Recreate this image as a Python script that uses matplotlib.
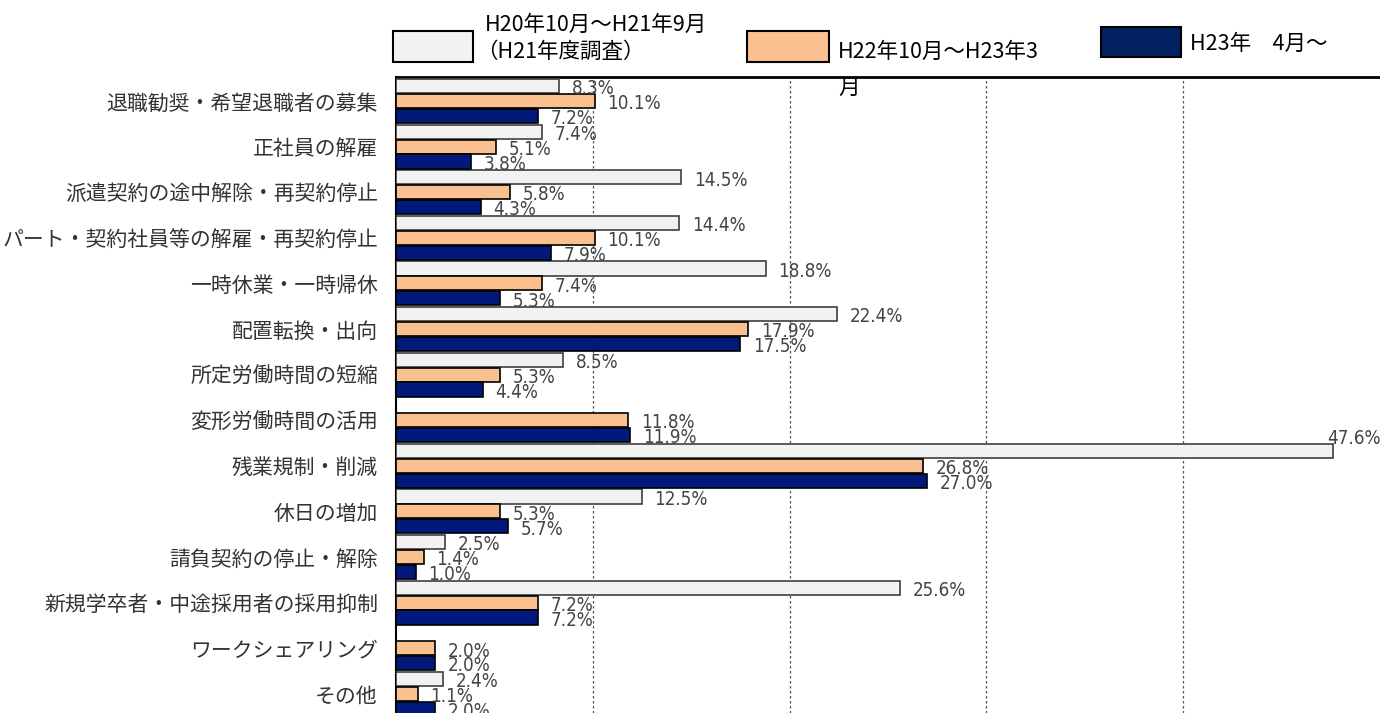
import numpy as np
import matplotlib
matplotlib.use('Agg')
import matplotlib.pyplot as plt
from matplotlib.patches import Rectangle

plt.rcParams['font.family'] = ['Noto Sans CJK JP', 'DejaVu Sans']

categories = ['退職勧奨・希望退職者の募集', '正社員の解雇', '派遣契約の途中解除・再契約停止',
              'パート・契約社員等の解雇・再契約停止', '一時休業・一時帰休', '配置転換・出向',
              '所定労働時間の短縮', '変形労働時間の活用', '残業規制・削減', '休日の増加',
              '請負契約の停止・解除', '新規学卒者・中途採用者の採用抑制', 'ワークシェアリング', 'その他']
h21 = [8.3, 7.4, 14.5, 14.4, 18.8, 22.4, 8.5, np.nan, 47.6, 12.5, 2.5, 25.6, np.nan, 2.4]
h22 = [10.1, 5.1, 5.8, 10.1, 7.4, 17.9, 5.3, 11.8, 26.8, 5.3, 1.4, 7.2, 2.0, 1.1]
h23 = [7.2, 3.8, 4.3, 7.9, 5.3, 17.5, 4.4, 11.9, 27.0, 5.7, 1.0, 7.2, 2.0, 2.0]

series = [
    (h21, '#F2F2F2', '#404040'),
    (h22, '#FAC090', '#000000'),
    (h23, '#00197A', '#000000'),
]

W, H = 1380, 713
fig = plt.figure(figsize=(W / 100, H / 100), dpi=100)
ax = fig.add_axes([396 / W, 0, 984 / W, 636 / H])

y = np.arange(len(categories))
step = 0.326
bh = 0.31
lab_kw = dict(fontsize=13.5, color='#444444', family='DejaVu Sans', fontstretch='condensed',
              va='center', ha='left', textcoords='offset points', zorder=4)
for k, (vals, fc, ec) in enumerate(series):
    pos = y + (k - 1) * step
    ax.barh(pos, vals, height=bh, color=fc, edgecolor=ec, linewidth=1.2, zorder=3)
    for p, v in zip(pos, vals):
        if np.isnan(v):
            continue
        if v > 45:
            # no room on the right: put it above the bar end
            ax.annotate(f'{v:.1f}%', (v, p), xytext=(-4, 9), **lab_kw)
        else:
            ax.annotate(f'{v:.1f}%', (v, p), xytext=(9, -2), **lab_kw)

ax.set_xlim(0, 50)
ax.set_ylim(13.42, -0.526)
ax.set_yticks(y)
ax.set_yticklabels(categories, fontsize=15, color='#333333')
ax.tick_params(axis='y', length=0, pad=13)
ax.set_xticks([10, 20, 30, 40])
ax.tick_params(axis='x', length=0, labelbottom=False)
ax.grid(axis='x', color='#555555', linestyle=(0, (2, 2)), linewidth=0.9, zorder=0)
ax.spines['top'].set_linewidth(2)
ax.spines['left'].set_linewidth(1.5)
ax.spines['right'].set_visible(False)
ax.spines['bottom'].set_visible(False)


def fx(px):
    return px / W


def fy(py):
    return 1 - py / H


# legend drawn by hand (labels wrap like the original)
boxes = [(393, 31, 80, 31, '#F2F2F2'), (747, 31, 82, 31, '#FAC090'), (1101, 27, 80, 30, '#002060')]
for bx, by, bw, bhh, c in boxes:
    fig.patches.append(Rectangle((fx(bx), fy(by + bhh)), bw / W, bhh / H, facecolor=c,
                                 edgecolor='black', linewidth=1.5, transform=fig.transFigure))

leg_kw = dict(fontsize=15.5, color='black', va='center', ha='left')
fig.text(fx(485), fy(25), 'H20年10月～H21年9月', **leg_kw)
fig.text(fx(476), fy(52), '（H21年度調査）', **leg_kw)
fig.text(fx(838), fy(52), 'H22年10月～H23年3', **leg_kw)
fig.text(fx(838), fy(88), '月', **leg_kw)
fig.text(fx(1190), fy(44), 'H23年　4月～', **leg_kw)

fig.savefig('out.png', dpi=100)
